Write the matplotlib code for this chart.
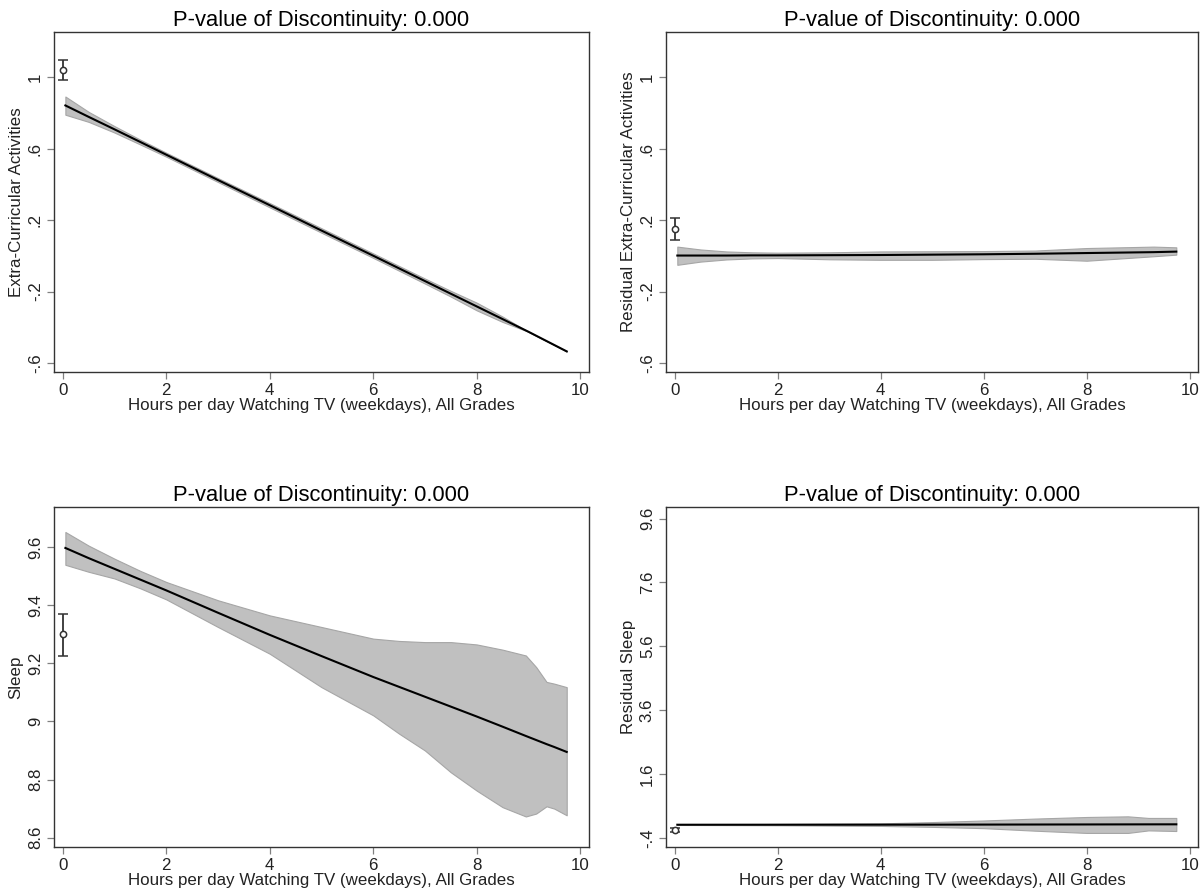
import matplotlib
matplotlib.use("Agg")
import matplotlib.pyplot as plt

plt.rcParams['font.family'] = ['Liberation Sans', 'DejaVu Sans']

TITLE = "P-value of Discontinuity: 0.000"
XLABEL = "Hours per day Watching TV (weekdays), All Grades"
XTICKS = [0, 2, 4, 6, 8, 10]

# --- Extra-curricular activities -------------------------------------------
ec_x = [0.05, 0.5, 1, 1.5, 2, 3, 4, 5, 6, 7, 7.5, 8, 8.5, 9.0, 9.74]
ec_fit = [0.843, 0.779, 0.709, 0.638, 0.567, 0.425, 0.284, 0.142, 0.001, -0.141, -0.212, -0.283,
          -0.354, -0.425, -0.535]
ec_lo = [0.791, 0.751, 0.691, 0.624, 0.556, 0.414, 0.272, 0.130, -0.011, -0.155, -0.228, -0.305,
         -0.370, -0.425, -0.535]
ec_hi = [0.893, 0.807, 0.727, 0.651, 0.578, 0.436, 0.296, 0.155, 0.014, -0.127, -0.196, -0.262,
         -0.340, -0.425, -0.535]
ec_pt, ec_pt_lo, ec_pt_hi = 1.043, 0.983, 1.10
ec_yticks = [-0.6, -0.2, 0.2, 0.6, 1.0]
ec_ytlabels = ["-.6", "-.2", ".2", ".6", "1"]

# --- Residual extra-curricular activities ----------------------------------
rec_x = [0.05, 0.5, 1, 1.5, 2, 3, 4, 5, 6, 7, 8, 9.3, 9.74]
rec_fit = [0.002, 0.002, 0.002, 0.003, 0.003, 0.004, 0.005, 0.007, 0.009, 0.012, 0.016, 0.021, 0.024]
rec_lo = [-0.050, -0.032, -0.020, -0.014, -0.012, -0.019, -0.022, -0.022, -0.018, -0.016, -0.027,
          -0.002, 0.007]
rec_hi = [0.052, 0.036, 0.025, 0.020, 0.018, 0.020, 0.025, 0.026, 0.027, 0.030, 0.044, 0.052, 0.048]
rec_pt, rec_pt_lo, rec_pt_hi = 0.151, 0.089, 0.215

# --- Sleep ------------------------------------------------------------------
sl_x = [0.05, 0.5, 1, 1.5, 2, 3, 4, 5, 6, 6.5, 7, 7.5, 8, 8.5, 8.95, 9.15, 9.35, 9.5, 9.74]
sl_fit = [9.597, 9.562, 9.525, 9.488, 9.451, 9.374, 9.298, 9.225, 9.153, 9.119, 9.085, 9.051, 9.017,
          8.982, 8.950, 8.936, 8.922, 8.912, 8.895]
sl_lo = [9.539, 9.515, 9.492, 9.458, 9.420, 9.325, 9.233, 9.118, 9.021, 8.958, 8.900, 8.825, 8.762,
         8.705, 8.673, 8.683, 8.708, 8.700, 8.677]
sl_hi = [9.652, 9.605, 9.560, 9.518, 9.480, 9.417, 9.365, 9.325, 9.285, 9.277, 9.273, 9.273, 9.265,
         9.247, 9.227, 9.187, 9.136, 9.130, 9.118]
sl_pt, sl_pt_lo, sl_pt_hi = 9.30, 9.226, 9.371
sl_yticks = [8.6, 8.8, 9.0, 9.2, 9.4, 9.6]
sl_ytlabels = ["8.6", "8.8", "9", "9.2", "9.4", "9.6"]

# --- Residual sleep -----------------------------------------------------------
rsl_x = [0.05, 2, 4, 5, 6, 7, 8, 8.8, 9.2, 9.74]
rsl_fit = [0.007, 0.008, 0.009, 0.010, 0.012, 0.014, 0.016, 0.018, 0.019, 0.020]
rsl_lo = [0.0, -0.01, -0.03, -0.06, -0.10, -0.18, -0.25, -0.25, -0.17, -0.19]
rsl_hi = [0.015, 0.03, 0.05, 0.09, 0.14, 0.20, 0.25, 0.27, 0.22, 0.22]
rsl_pt, rsl_pt_lo, rsl_pt_hi = -0.149, -0.222, -0.087
rsl_yticks = [-0.4, 1.6, 3.6, 5.6, 7.6, 9.6]
rsl_ytlabels = ["-.4", "1.6", "3.6", "5.6", "7.6", "9.6"]


def rdplot(ax, x, fit, lo, hi, pt, pt_lo, pt_hi, ylim, yticks, ytlabels, ylabel):
    ax.fill_between(x, lo, hi, facecolor="#c0c0c0", edgecolor="#a6a6a6", linewidth=0.8, zorder=1)
    ax.plot(x, fit, color="black", linewidth=1.5, zorder=2)
    ax.errorbar([0], [pt], yerr=[[pt - pt_lo], [pt_hi - pt]], fmt="o", markersize=4.5,
                markerfacecolor="white", markeredgecolor="#333333", markeredgewidth=1.1,
                ecolor="#333333", elinewidth=1.3, capsize=3.5, capthick=1.3, zorder=3)

    ax.set_xlim(-0.17, 10.17)
    ax.set_ylim(ylim)
    ax.set_xticks(XTICKS)
    ax.set_yticks(yticks)
    ax.set_yticklabels(ytlabels, rotation=90, va="center")
    ax.tick_params(axis="both", direction="out", length=5, width=0.9, color="#808080",
                   labelsize=12.2, labelcolor="#222222", pad=3)
    for s in ax.spines.values():
        s.set_color("#333333")
        s.set_linewidth(1.0)

    ax.set_title(TITLE, fontsize=15.8, pad=4)
    ax.set_xlabel(XLABEL, fontsize=12.2, labelpad=0, color="#222222")
    ax.set_ylabel(ylabel, fontsize=12.2, labelpad=3, color="#222222")


fig = plt.figure(figsize=(12, 8.94), dpi=100)

ax_tl = fig.add_axes([0.045, 0.584, 0.4458, 0.3803])
ax_tr = fig.add_axes([0.555, 0.584, 0.4437, 0.3803])
ax_bl = fig.add_axes([0.045, 0.0526, 0.4458, 0.3803])
ax_br = fig.add_axes([0.555, 0.0526, 0.4437, 0.3803])

rdplot(ax_tl, ec_x, ec_fit, ec_lo, ec_hi, ec_pt, ec_pt_lo, ec_pt_hi,
       (-0.65, 1.255), ec_yticks, ec_ytlabels, "Extra-Curricular Activities")
rdplot(ax_tr, rec_x, rec_fit, rec_lo, rec_hi, rec_pt, rec_pt_lo, rec_pt_hi,
       (-0.65, 1.255), ec_yticks, ec_ytlabels, "Residual Extra-Curricular Activities")
rdplot(ax_bl, sl_x, sl_fit, sl_lo, sl_hi, sl_pt, sl_pt_lo, sl_pt_hi,
       (8.568, 9.738), sl_yticks, sl_ytlabels, "Sleep")
rdplot(ax_br, rsl_x, rsl_fit, rsl_lo, rsl_hi, rsl_pt, rsl_pt_lo, rsl_pt_hi,
       (-0.69, 9.966), rsl_yticks, rsl_ytlabels, "Residual Sleep")

fig.savefig("out.png", dpi=100)
